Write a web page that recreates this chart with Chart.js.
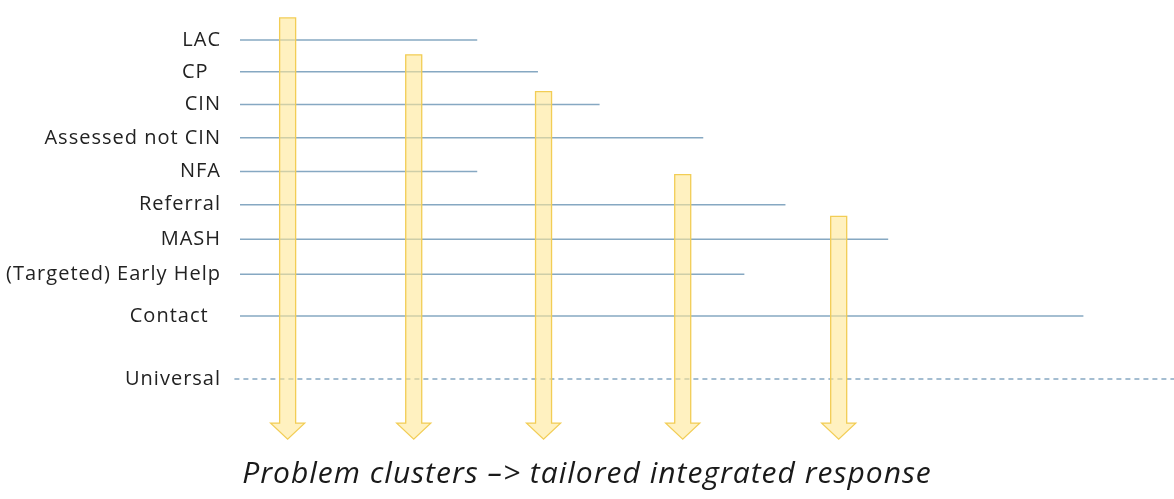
<!DOCTYPE html>
<html>
<head>
  <title>Problem clusters</title>
  <script src="https://cdn.jsdelivr.net/npm/chart.js"></script>
  <style>
    body { margin: 0; background: #fff; }
    #wrap { width: 1174px; height: 499px; }
  </style>
</head>
<body>
  <div id="wrap"><canvas id="myChart"></canvas></div>
  <script>
// levels (top to bottom) and where each line reaches on a 0-100 scale
const levels = ['LAC', 'CP  ', 'CIN', 'Assessed not CIN', 'NFA', 'Referral', 'MASH', '(Targeted) Early Help', 'Contact  ', 'Universal'];
const levelDepth = [8.9, 16, 23.3, 30.7, 38.2, 45.6, 53.3, 61.1, 70.4, 84.4];
const lineStart = [0, 0, 0, 0, 0, 0, 0, 0, 0, -0.6];
const lineEnd = [25.4, 31.9, 38.5, 49.6, 25.4, 58.4, 69.4, 54, 90.3, 100];

// the five down arrows
const arrowX = [5.1, 18.6, 32.5, 47.4, 64.1];
const arrowTop = [4, 12.2, 20.4, 38.9, 48.2];
const arrowTip = 97.8;

const titleText = 'Problem clusters \u2013> tailored integrated response';

const datasets = levels.map((name, i) => ({
  label: name.trim(),
  data: [{ x: lineStart[i], y: levelDepth[i] }, { x: lineEnd[i], y: levelDepth[i] }],
  borderColor: '#86a8c2',
  borderWidth: 1.5,
  borderDash: name === 'Universal' ? [5, 4] : [],
  pointRadius: 0,
  showLine: true,
  fill: false,
  clip: false
}));

// the original text is a little wider than the installed fonts
const spacingPlugin = {
  id: 'spacing',
  beforeDraw(chart) { chart.ctx.letterSpacing = '1px'; },
  afterDraw(chart) { chart.ctx.letterSpacing = '0px'; }
};

const arrowPlugin = {
  id: 'arrows',
  afterDatasetsDraw(chart) {
    const ctx = chart.ctx;
    const xs = chart.scales.x, ys = chart.scales.y;
    ctx.save();
    arrowX.forEach((v, i) => {
      const cx = xs.getPixelForValue(v);
      const top = ys.getPixelForValue(arrowTop[i]);
      const tip = ys.getPixelForValue(arrowTip);
      const shaft = 8, head = 17, headH = 16;
      ctx.beginPath();
      ctx.moveTo(cx - shaft, top);
      ctx.lineTo(cx + shaft, top);
      ctx.lineTo(cx + shaft, tip - headH);
      ctx.lineTo(cx + head, tip - headH);
      ctx.lineTo(cx, tip);
      ctx.lineTo(cx - head, tip - headH);
      ctx.lineTo(cx - shaft, tip - headH);
      ctx.closePath();
      ctx.fillStyle = 'rgba(255, 232, 150, 0.6)';
      ctx.fill();
      ctx.strokeStyle = '#f2cd55';
      ctx.lineWidth = 1.3;
      ctx.stroke();
    });
    ctx.restore();
  }
};

const ctx = document.getElementById('myChart').getContext('2d');
new Chart(ctx, {
  type: 'scatter',
  data: { datasets: datasets },
  plugins: [spacingPlugin, arrowPlugin],
  options: {
    responsive: true,
    maintainAspectRatio: false,
    animation: false,
    layout: { padding: 0 },
    plugins: {
      legend: { display: false },
      tooltip: { enabled: false },
      title: {
        display: true,
        position: 'bottom',
        text: titleText,
        color: '#1a1a1a',
        font: { family: 'Open Sans', size: 30, style: 'italic', weight: 'normal', lineHeight: 1.2 },
        padding: { top: 7, bottom: 7 }
      }
    },
    scales: {
      x: { type: 'linear', display: false, min: 0, max: 100 },
      y: {
        type: 'linear',
        reverse: true,
        min: 0,
        max: 100,
        grid: { display: false, drawTicks: false },
        border: { display: false },
        afterBuildTicks: (scale) => { scale.ticks = levelDepth.map(v => ({ value: v })); },
        afterFit: (scale) => {
          scale.width = 240;
          scale.paddingTop = 0;
          scale.paddingBottom = 0;
        },
        ticks: {
          autoSkip: false,
          padding: 19,
          color: '#222',
          font: { family: 'Open Sans', size: 20 },
          callback: (value) => levels[levelDepth.indexOf(value)]
        }
      }
    }
  }
});
  </script>
</body>
</html>
